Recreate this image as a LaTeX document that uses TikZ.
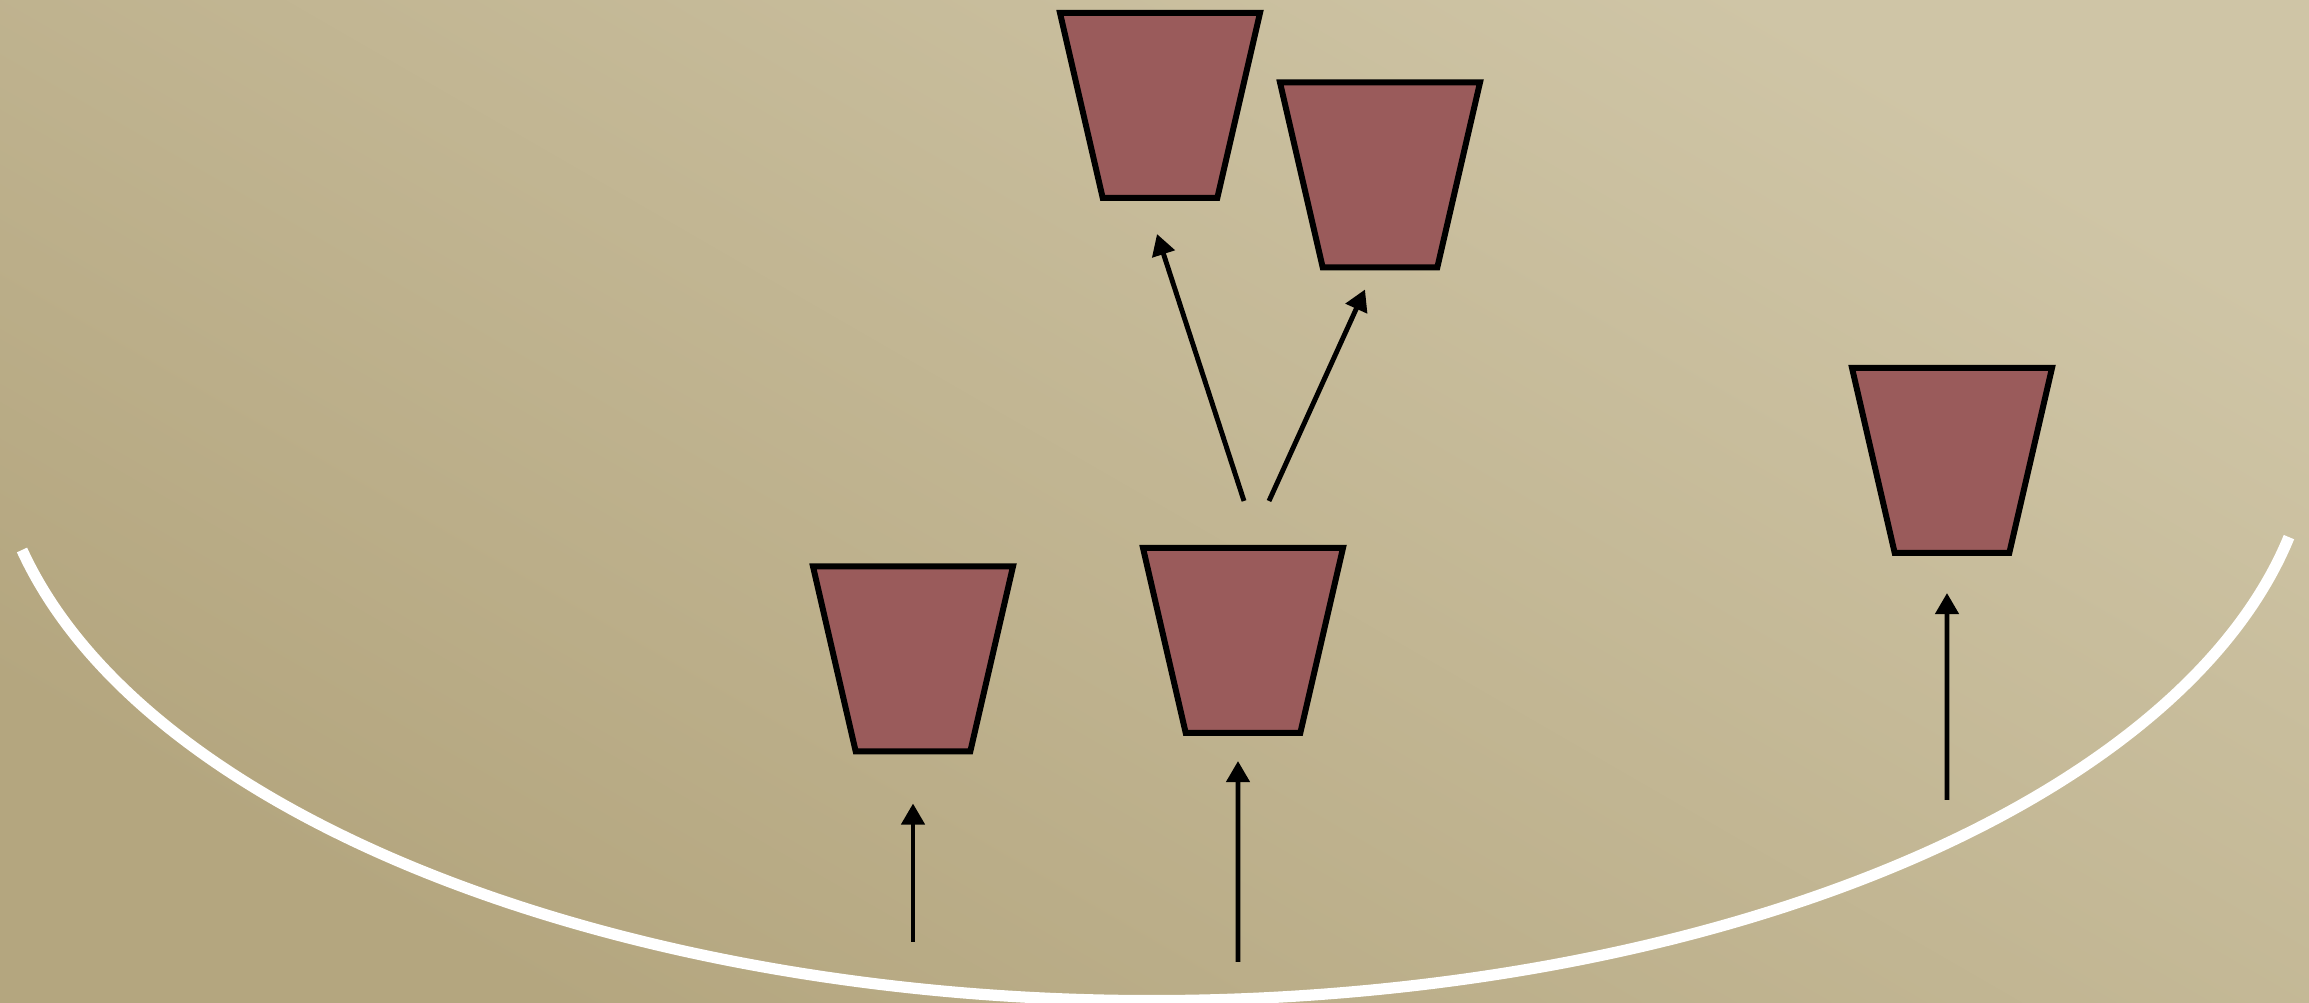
\documentclass[tikz,border=0pt]{standalone}
\usepackage{tikz}
\usetikzlibrary{shapes.geometric,arrows.meta}
\usepackage{xcolor}
\definecolor{fundoclaro}{RGB}{207,197,166}
\definecolor{fundoescuro}{RGB}{180,166,127}
\definecolor{vinho}{RGB}{154,91,91}

\begin{document}
\begin{tikzpicture}[
  copo/.style={trapezium, trapezium left angle=77, trapezium right angle=77,
    shape border rotate=180, trapezium stretches body,
    inner xsep=0pt, inner ysep=0.925cm, minimum width=2cm,
    draw, line width=1.7pt, fill=vinho},
  seta/.style={-{Triangle[width=6.5pt,length=6pt]}, line width=1.4pt}]
\useasboundingbox (0,0) rectangle (23.09,10.03);
% Fundo
\shade[top color=fundoclaro, bottom color=fundoescuro, shading angle=-30]
  (0,0) rectangle (23.09,10.03);
% Arco
\draw[white, line width=3.2pt] (0.22,4.53)
  arc[start angle=192.9, end angle=348.4, x radius=11.6, y radius=5.8];
% Copos
\node[copo] (copoA) at (11.60,8.975) {};
\node[copo] (copoB) at (13.80,8.28) {};
\node[copo] (copoM) at (12.43,3.625) {};
\node[copo] (copoE) at (9.13,3.44) {};
\node[copo] (copoD) at (19.52,5.425) {};
% Bases das setas
\coordinate (baseE) at (9.13,0.61);
\coordinate (baseM) at (12.38,0.41);
\coordinate (baseD) at (19.47,2.03);
% Setas
\draw[seta] (baseE) -- ([yshift=-0.49cm]copoE.south);
\draw[seta] (baseM) -- ([xshift=-0.05cm,yshift=-0.25cm]copoM.south);
\draw[seta] (baseD) -- ([xshift=-0.05cm,yshift=-0.37cm]copoD.south);
\draw[seta] ([xshift=0.01cm,yshift=0.44cm]copoM.north) -- ([xshift=-0.03cm,yshift=-0.33cm]copoA.south);
\draw[seta] ([xshift=0.26cm,yshift=0.44cm]copoM.north) -- ([xshift=-0.15cm,yshift=-0.19cm]copoB.south);
\end{tikzpicture}
\end{document}
